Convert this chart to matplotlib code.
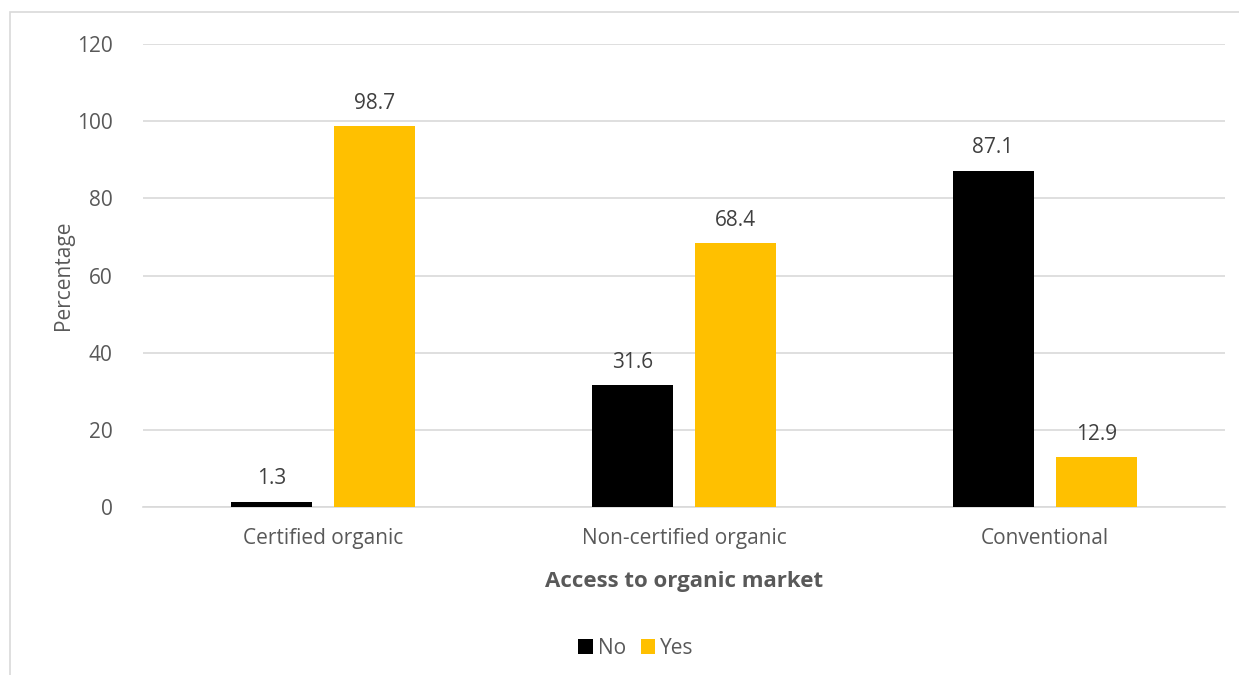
import numpy as np
import matplotlib
matplotlib.use("Agg")
import matplotlib.pyplot as plt
from matplotlib.patches import Rectangle

plt.rcParams["font.family"] = ["Open Sans", "DejaVu Sans"]

categories = ["Certified organic", "Non-certified organic", "Conventional"]
no_values = [1.3, 31.6, 87.1]
yes_values = [98.7, 68.4, 12.9]
y_ticks = [0, 20, 40, 60, 80, 100, 120]

text_grey = "#595959"
grid_grey = "#d9d9d9"
black = "#000000"
gold = "#ffc000"

fig = plt.figure(figsize=(12.39, 6.75), dpi=100)
ax = fig.add_axes([0.1154, 0.2489, 0.8733, 0.6859])

# outer chart frame (top and left edges visible)
fig.patches.append(Rectangle((10 / 1239, -0.1), 1.2, 1 - 12 / 675 + 0.1,
                             transform=fig.transFigure, fill=False,
                             edgecolor="#d9d9d9", linewidth=1.2))

x = np.arange(len(categories))
width = 0.225
offset = 0.143

bars_no = ax.bar(x - offset, no_values, width, color=black, label="No", zorder=3)
bars_yes = ax.bar(x + offset, yes_values, width, color=gold, label="Yes", zorder=3)

for bars in (bars_no, bars_yes):
    for b in bars:
        h = b.get_height()
        ax.annotate(f"{h:.1f}", (b.get_x() + b.get_width() / 2, h),
                    xytext=(0, 9), textcoords="offset points",
                    ha="center", va="bottom", fontsize=15, color="#404040")

ax.set_xlim(-0.5, 2.5)
ax.set_ylim(0, 120)
ax.set_yticks(y_ticks)
ax.set_xticks(x)
ax.set_xticklabels(categories)
ax.tick_params(axis="both", length=0, labelsize=15, colors=text_grey)
ax.tick_params(axis="y", pad=22)
ax.tick_params(axis="x", pad=15)

ax.yaxis.grid(True, color=grid_grey, linewidth=1.2, zorder=0)
for s in ("top", "right", "left"):
    ax.spines[s].set_visible(False)
ax.spines["bottom"].set_color(grid_grey)
ax.spines["bottom"].set_linewidth(1.2)

ax.set_ylabel("Percentage", fontsize=15, color=text_grey, labelpad=2)
ax.set_xlabel("Access to organic market", fontsize=16, fontweight="bold",
              color=text_grey, labelpad=16)

fig.legend(handles=[bars_no, bars_yes], loc="center", bbox_to_anchor=(636 / 1239, 1 - 648 / 675),
           ncol=2, frameon=False, fontsize=15, handlelength=0.7, handleheight=0.7,
           handletextpad=0.25, columnspacing=0.7, labelcolor=text_grey)

fig.savefig("out.png", dpi=100, facecolor="white")
